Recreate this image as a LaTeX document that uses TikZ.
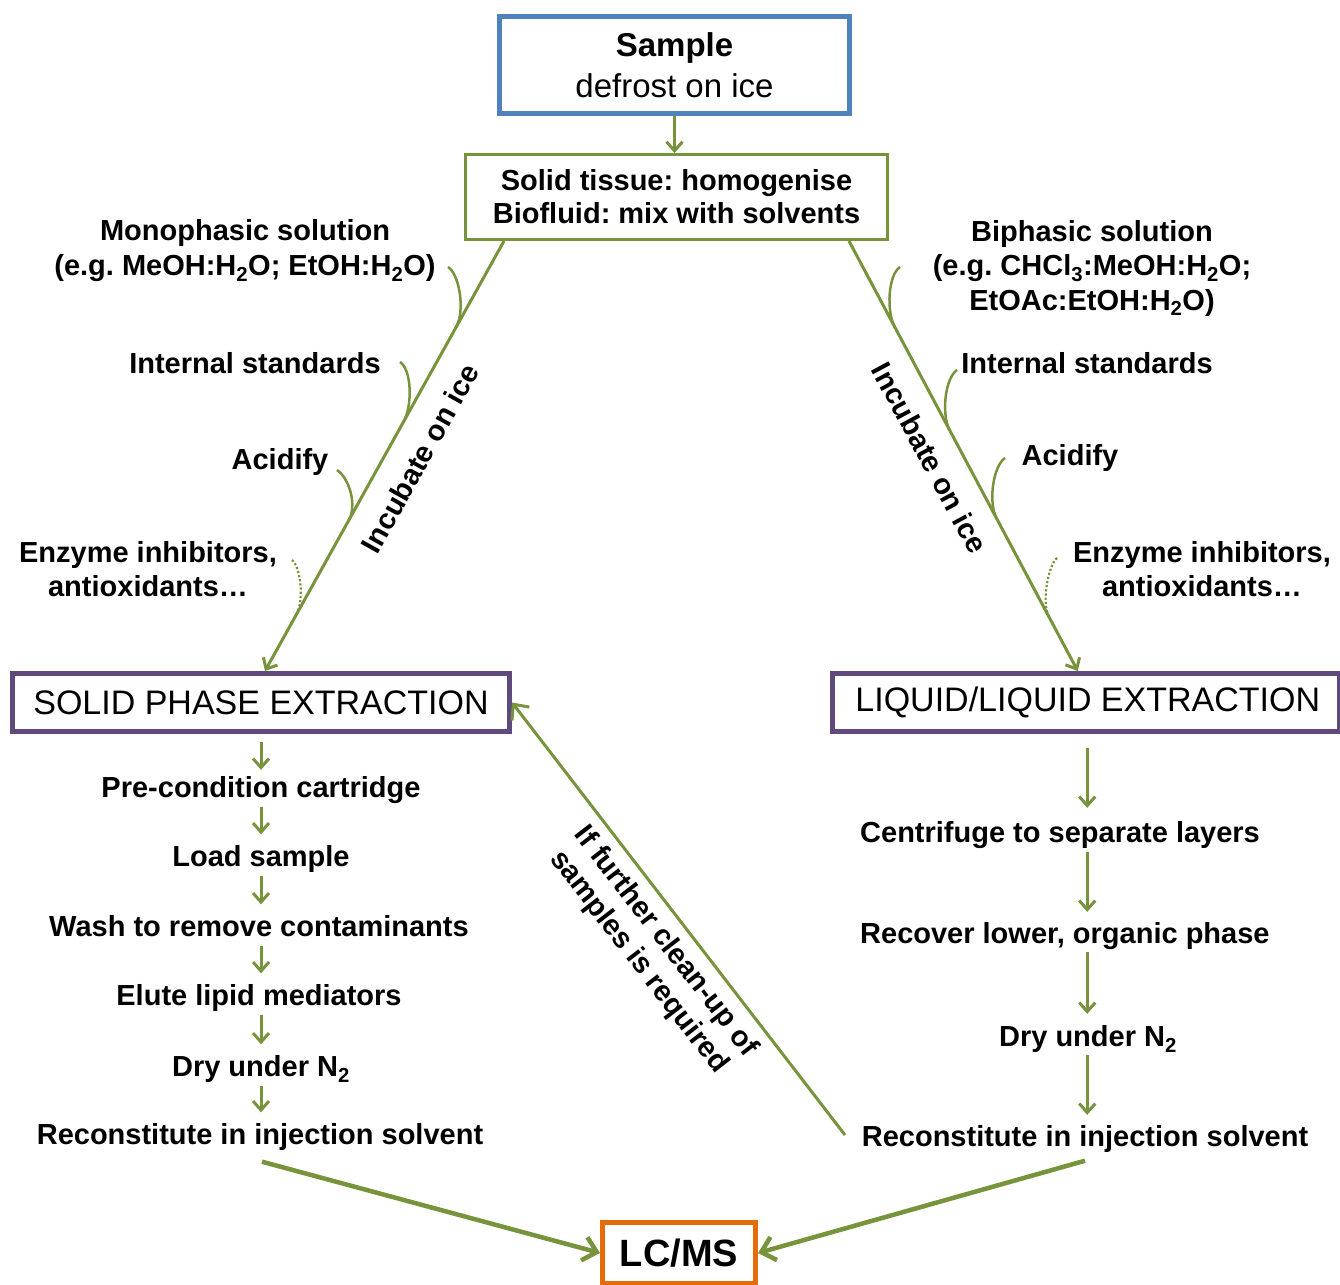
\documentclass[tikz,border=0pt]{standalone}
\usepackage{fontspec}
\setmainfont{Liberation Sans}
\usetikzlibrary{arrows.meta,calc}
\definecolor{gr}{RGB}{119,147,60}
\definecolor{bl}{RGB}{79,129,189}
\definecolor{pu}{RGB}{96,74,123}
\definecolor{orn}{RGB}{228,108,10}
\frenchspacing
\begin{document}
\frenchspacing
\begin{tikzpicture}[x=1pt,y=-1pt,
  lbl/.style={font=\fontsize{29}{34}\selectfont\bfseries\frenchspacing, align=center, inner sep=0},
  stp/.style={font=\fontsize{29}{34}\selectfont\bfseries, inner sep=0, text height=21pt, text depth=6pt},
  arr/.style={draw=gr, line width=3, -{Straight Barb[length=9,width=16]}},
  bigarr/.style={draw=gr, line width=4.5, -{Straight Barb[length=13,width=24]}},
  feed/.style={draw=gr, line width=2.5},
  dfeed/.style={draw=gr, line width=2.2, dotted},
  diag/.style={draw=gr, line width=3}]
\useasboundingbox (0,0) rectangle (1340,1284);

% boxes
\node[draw=bl, line width=5, minimum width=350, minimum height=97, inner sep=0,
      align=center, font=\fontsize{33}{41}\selectfont] (sample) at (674.5,65)
      {{\bfseries Sample}\\defrost on ice};
\node[draw=gr, line width=3, minimum width=422, minimum height=85, inner sep=0,
      align=center, font=\fontsize{29}{33}\selectfont\bfseries\frenchspacing] (mix) at (676.5,197)
      {Solid tissue: homogenise\\Biofluid: mix with solvents};
\node[draw=pu, line width=5, minimum width=497, minimum height=58, inner sep=0,
      font=\fontsize{34}{40}\selectfont] (spe) at (261,702.5) {SOLID PHASE EXTRACTION};
\node[draw=pu, line width=5, minimum width=506.5, minimum height=58, inner sep=0,
      font=\fontsize{34}{40}\selectfont] (lle) at (1085.75,702.5) {\hspace*{4pt}LIQUID/LIQUID EXTRACTION};
\node[draw=orn, line width=5, minimum width=153, minimum height=61, inner sep=0,
      font=\fontsize{38}{44}\selectfont\bfseries] (lcms) at (679,1253) {LC/MS};

% sample -> mix
\draw[arr] (sample.south) -- (sample.south |- mix.north);

% diagonals
\coordinate (ltop) at ([xshift=40pt]mix.south west);
\coordinate (lbot) at ([xshift=4pt]spe.north);
\coordinate (rtop) at ([xshift=-40pt]mix.south east);
\coordinate (rbot) at ([xshift=-8pt]lle.north);
\draw[arr] (ltop) -- (lbot);
\draw[arr] (rtop) -- (rbot);
\node[lbl, rotate=60.8] (incl) at (420,458) {Incubate on ice};
\node[lbl, rotate=-61.7] (incr) at (930,458) {Incubate on ice};

% left labels
\node[lbl, font=\fontsize{29}{35}\selectfont\bfseries\frenchspacing] (mono) at (245,251)
  {Monophasic solution\\(e.g. MeOH:H\textsubscript{2}O; EtOH:H\textsubscript{2}O)};
\node[lbl] (lis) at (255,363) {Internal standards};
\node[lbl] (lac) at (280,462) {Acidify};
\node[lbl] (len) at (148,569) {Enzyme inhibitors,\\antioxidants…};
% right labels
\node[lbl, font=\fontsize{29}{34.5}\selectfont\bfseries\frenchspacing] (bi) at (1092,268)
  {Biphasic solution\\(e.g. CHCl\textsubscript{3}:MeOH:H\textsubscript{2}O;\\EtOAc:EtOH:H\textsubscript{2}O)};
\node[lbl] (ris) at (1087,363) {Internal standards};
\node[lbl] (rac) at (1070,458) {Acidify};
\node[lbl] (ren) at (1202,569) {Enzyme inhibitors,\\antioxidants…};

% feeder curves left
\coordinate (lf1s) at (448,267);
\coordinate (lf1e) at ($(ltop)!0.20!(lbot)$);
\draw[feed] (lf1s) .. controls ($(lf1s)+(12,8)$) and ($(lf1e)+(8.8,-15.7)$) .. (lf1e);
\coordinate (lf2s) at (400,362);
\coordinate (lf2e) at ($(ltop)!0.42!(lbot)$);
\draw[feed] (lf2s) .. controls ($(lf2s)+(12,8)$) and ($(lf2e)+(8.8,-15.7)$) .. (lf2e);
\coordinate (lf3s) at (337,470);
\coordinate (lf3e) at ($(ltop)!0.65!(lbot)$);
\draw[feed] (lf3s) .. controls ($(lf3s)+(12,8)$) and ($(lf3e)+(8.8,-15.7)$) .. (lf3e);
\coordinate (lf4s) at (292,560);
\coordinate (lf4e) at ($(ltop)!0.87!(lbot)$);
\draw[dfeed] (lf4s) .. controls ($(lf4s)+(8,6)$) and ($(lf4e)+(8.8,-15.7)$) .. (lf4e);
% feeder curves right
\coordinate (rf1s) at (900,267);
\coordinate (rf1e) at ($(rtop)!0.20!(rbot)$);
\draw[feed] (rf1s) .. controls ($(rf1s)+(-12,8)$) and ($(rf1e)+(-8.5,-15.8)$) .. (rf1e);
\coordinate (rf2s) at (957,370);
\coordinate (rf2e) at ($(rtop)!0.44!(rbot)$);
\draw[feed] (rf2s) .. controls ($(rf2s)+(-12,8)$) and ($(rf2e)+(-8.5,-15.8)$) .. (rf2e);
\coordinate (rf3s) at (1005,458);
\coordinate (rf3e) at ($(rtop)!0.645!(rbot)$);
\draw[feed] (rf3s) .. controls ($(rf3s)+(-12,8)$) and ($(rf3e)+(-8.5,-15.8)$) .. (rf3e);
\coordinate (rf4s) at (1057,558);
\coordinate (rf4e) at ($(rtop)!0.875!(rbot)$);
\draw[dfeed] (rf4s) .. controls ($(rf4s)+(-8,6)$) and ($(rf4e)+(-8.5,-15.8)$) .. (rf4e);

% SPE steps
\node[stp] (s1) at (261,790) {Pre-condition cartridge};
\node[stp] (s2) at (261,859) {Load sample};
\node[stp] (s3) at (259,929) {Wash to remove contaminants};
\node[stp] (s4) at (259,998) {Elute lipid mediators};
\node[stp] (s5) at (261,1069) {Dry under N\textsubscript{2}};
\node[stp] (s6) at (260,1137) {Reconstitute in injection solvent};
\draw[arr, shorten <=8pt, shorten >=6.5pt] (spe.south) -- (spe.south |- s1.north);
\draw[arr, shorten <=3pt, shorten >=11pt] (spe.south |- s1.south) -- (spe.south |- s2.north);
\draw[arr, shorten <=3pt, shorten >=11pt] (spe.south |- s2.south) -- (spe.south |- s3.north);
\draw[arr, shorten <=3pt, shorten >=11pt] (spe.south |- s3.south) -- (spe.south |- s4.north);
\draw[arr, shorten <=3pt, shorten >=11pt] (spe.south |- s4.south) -- (spe.south |- s5.north);
\draw[arr, shorten <=3pt, shorten >=11pt] (spe.south |- s5.south) -- (spe.south |- s6.north);

% LLE steps
\node[stp, anchor=west] (r1) at (860,835) {Centrifuge to separate layers};
\node[stp, anchor=west] (r2) at (860,936) {Recover lower, organic phase};
\node[stp] (r3) at (1088,1039) {Dry under N\textsubscript{2}};
\node[stp] (r4) at (1085,1139) {Reconstitute in injection solvent};
\coordinate (lcol) at ([xshift=1.5pt]lle.south);
\draw[arr, shorten <=14pt, shorten >=13.5pt] (lcol) -- (lcol |- r1.north);
\draw[arr, shorten <=3.5pt, shorten >=10.5pt] (lcol |- r1.south) -- (lcol |- r2.north);
\draw[arr, shorten <=2.5pt, shorten >=11.5pt] (lcol |- r2.south) -- (lcol |- r3.north);
\draw[arr, shorten <=2.5pt, shorten >=10.5pt] (lcol |- r3.south) -- (lcol |- r4.north);

% feedback
\coordinate (fb) at (845,1135);
\draw[draw=gr, line width=3, -{Straight Barb[length=12,width=22]}] (fb) -- (spe.east);
\node[lbl, rotate=-52.3] (fbl) at (652,952) {If further clean-up of\\samples is required};

% to LC/MS
\draw[bigarr] ([xshift=2pt,yshift=-11pt]s6.south) -- (lcms.west);
\draw[bigarr] ([yshift=-8pt]r4.south) -- (lcms.east);
\end{tikzpicture}
\end{document}
